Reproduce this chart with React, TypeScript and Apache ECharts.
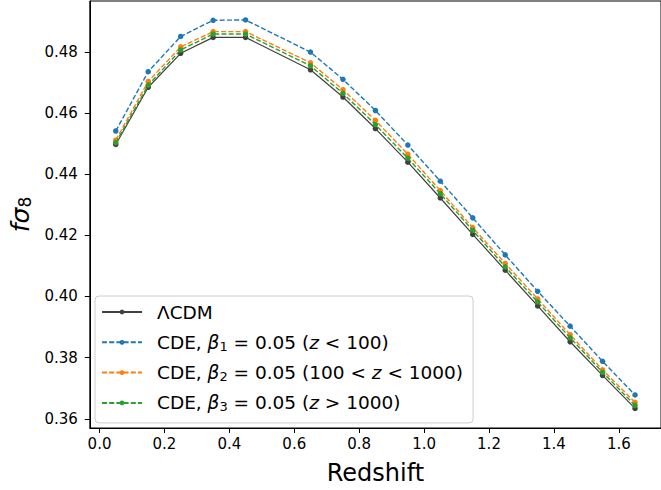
import React, { useEffect, useRef } from "react";
import * as echarts from "echarts";

const redshift = [0.05, 0.15, 0.25, 0.35, 0.45, 0.65, 0.75, 0.85, 0.95, 1.05, 1.15, 1.25, 1.35, 1.45, 1.55, 1.65];
const lcdm = [0.4497, 0.4684, 0.4795, 0.4847, 0.4847, 0.4741, 0.4652, 0.4549, 0.4439, 0.4322, 0.4203, 0.4086, 0.3969, 0.3852, 0.3742, 0.3634];
const cde1 = [0.4541, 0.4735, 0.485, 0.4903, 0.4904, 0.4799, 0.471, 0.4608, 0.4495, 0.4377, 0.4257, 0.4136, 0.4017, 0.3903, 0.3788, 0.3678];
const cde2 = [0.4511, 0.4703, 0.4816, 0.4866, 0.4866, 0.4764, 0.4676, 0.4576, 0.4465, 0.4346, 0.4225, 0.4108, 0.3992, 0.3875, 0.376, 0.3654];
const cde3 = [0.4503, 0.4691, 0.4806, 0.4858, 0.4858, 0.4754, 0.4664, 0.4562, 0.4452, 0.4336, 0.4216, 0.4097, 0.3982, 0.3865, 0.3752, 0.3644];

const xTicks = [0, 0.2, 0.4, 0.6, 0.8, 1.0, 1.2, 1.4, 1.6];
const yTicks = [0.36, 0.38, 0.4, 0.42, 0.44, 0.46, 0.48];

const seriesNames = [
  "ΛCDM",
  "CDE, β1 = 0.05 (z < 100)",
  "CDE, β2 = 0.05 (100 < z < 1000)",
  "CDE, β3 = 0.05 (z > 1000)",
];
const legendRich = [
  "ΛCDM",
  "CDE, {i|β}{sub|1} = 0.05 ({i|z} < 100)",
  "CDE, {i|β}{sub|2} = 0.05 (100 < {i|z} < 1000)",
  "CDE, {i|β}{sub|3} = 0.05 ({i|z} > 1000)",
];
const seriesValues = [lcdm, cde1, cde2, cde3];
const seriesColors = ["#404040", "#1f77b4", "#ff7f0e", "#2ca02c"];
const seriesDashed = [false, true, true, true];

const FONT = "DejaVu Sans";

export default function App() {
  const ref = useRef<HTMLDivElement>(null);
  useEffect(() => {
    if (!ref.current) return;
    const chart = echarts.init(ref.current, null, { renderer: "svg" });
    const series = seriesNames.map((name, k) => ({
      name,
      type: "line",
      data: redshift.map((x, i) => [x, seriesValues[k][i]]),
      symbol: "circle",
      symbolSize: 5.5,
      showSymbol: true,
      itemStyle: { color: seriesColors[k] },
      lineStyle: {
        color: seriesColors[k],
        width: k === 0 ? 1.2 : 1.4,
        type: seriesDashed[k] ? [5, 2.2] : "solid",
      },
      emphasis: { disabled: true },
      z: 2 + k,
    }));
    chart.setOption({
      animation: false,
      textStyle: { fontFamily: FONT },
      grid: {
        left: 85,
        top: 1,
        width: 579,
        height: 431,
        show: true,
        borderColor: "#000",
        borderWidth: 1,
        backgroundColor: "transparent",
      },
      xAxis: {
        type: "value",
        min: -0.03,
        max: 1.73,
        name: "Redshift",
        nameLocation: "middle",
        nameGap: 33,
        nameTextStyle: { fontSize: 24, color: "#000", fontFamily: FONT },
        axisLine: { show: true, onZero: false, lineStyle: { color: "#000", width: 1 } },
        axisTick: { show: true, length: 5, lineStyle: { color: "#000", width: 1 }, customValues: xTicks },
        axisLabel: {
          show: true,
          fontSize: 15,
          color: "#000",
          margin: 8,
          fontFamily: FONT,
          customValues: xTicks,
          formatter: (v: number) => v.toFixed(1),
        },
        splitLine: { show: false },
      },
      yAxis: {
        type: "value",
        min: 0.357,
        max: 0.4966,
        name: "{i|fσ}{sub|8}",
        nameLocation: "middle",
        nameRotate: 90,
        nameGap: 56,
        nameTextStyle: {
          fontSize: 25,
          color: "#000",
          fontFamily: FONT,
          rich: {
            i: { fontSize: 25, fontStyle: "italic", fontFamily: FONT, color: "#000" },
            sub: { fontSize: 17, fontFamily: FONT, color: "#000", padding: [9, 0, 0, 0] },
          },
        },
        axisLine: { show: true, onZero: false, lineStyle: { color: "#000", width: 1 } },
        axisTick: { show: true, length: 5, lineStyle: { color: "#000", width: 1 }, customValues: yTicks },
        axisLabel: {
          show: true,
          fontSize: 15,
          color: "#000",
          margin: 12,
          fontFamily: FONT,
          customValues: yTicks,
          formatter: (v: number) => v.toFixed(2),
        },
        splitLine: { show: false },
      },
      legend: {
        show: true,
        orient: "vertical",
        left: 95,
        top: 296,
        padding: [5, 10, 9, 6],
        itemGap: 8.3,
        itemWidth: 40,
        itemHeight: 6,
        borderColor: "#cccccc",
        borderWidth: 1,
        borderRadius: 4,
        backgroundColor: "rgba(255,255,255,0.8)",
        selectedMode: false,
        data: seriesNames,
        formatter: (name: string) => legendRich[seriesNames.indexOf(name)],
        textStyle: {
          fontSize: 18.5,
          color: "#000",
          fontFamily: FONT,
          lineHeight: 22,
          padding: [0, 0, 0, 10],
          rich: {
            i: { fontSize: 18.5, fontStyle: "italic", fontFamily: FONT, color: "#000", lineHeight: 22 },
            sub: { fontSize: 13, fontFamily: FONT, color: "#000", padding: [8, 0, 0, 0], lineHeight: 22 },
          },
        },
      },
      series,
    });
    return () => chart.dispose();
  }, []);
  return (
    <div
      ref={ref}
      style={{ position: "fixed", left: 0, top: 0, width: 661, height: 490, background: "#fff" }}
    />
  );
}
